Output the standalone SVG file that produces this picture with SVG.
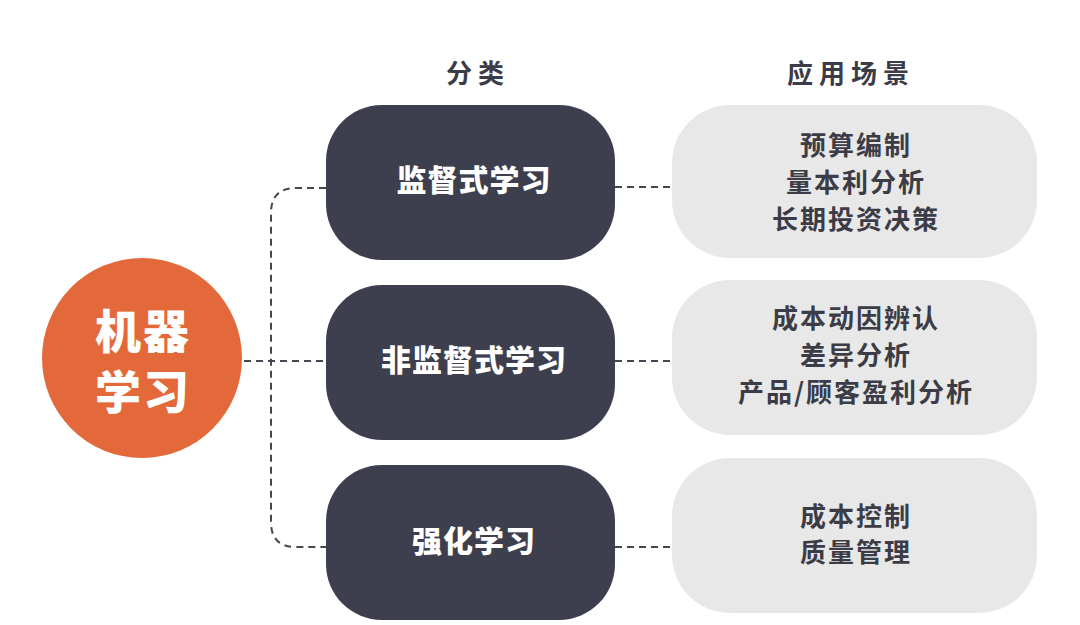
<svg xmlns="http://www.w3.org/2000/svg" width="1080" height="625" viewBox="0 0 1080 625">
<style>
text{font-family:"Noto Sans CJK SC","Noto Sans",sans-serif;text-anchor:middle}
.hdr{font-size:26px;font-weight:700;fill:#3b3c48;letter-spacing:6px}
.cat{fill:#3d3f4f}
.catt{font-size:30px;font-weight:900;fill:#ffffff;letter-spacing:1px}
.app{fill:#e8e8e8}
.appt{font-size:26px;font-weight:700;fill:#3b3c46;letter-spacing:2px}
.conn{fill:none;stroke:#444650;stroke-width:2;stroke-dasharray:7 5}
</style>
<rect width="1080" height="625" fill="#ffffff"/>
<text class="hdr" x="478" y="83">分类</text>
<text class="hdr" x="851" y="83">应用场景</text>
<g id="connectors">
<path class="conn" d="M326 188 H296 Q271 188 271 213 V522 Q271 547 296 547 H326"/>
<path class="conn" d="M244 361 H326"/>
<path class="conn" d="M615 187 H672"/>
<path class="conn" d="M615 361 H672"/>
<path class="conn" d="M615 547 H672"/>
</g>
<g id="ml">
<circle cx="142" cy="358" r="100" fill="#e4693a"/>
<text x="143" y="348" style="font-size:46px;font-weight:900;fill:#fff;letter-spacing:2px">机器</text>
<text x="143" y="409" style="font-size:46px;font-weight:900;fill:#fff;letter-spacing:2px">学习</text>
</g>
<g id="supervised">
<rect class="cat" x="326" y="105" width="289" height="155" rx="56"/>
<text class="catt" x="474" y="191">监督式学习</text>
</g>
<g id="unsupervised">
<rect class="cat" x="326" y="285" width="289" height="155" rx="56"/>
<text class="catt" x="474" y="371">非监督式学习</text>
</g>
<g id="reinforcement">
<rect class="cat" x="326" y="465" width="289" height="155" rx="56"/>
<text class="catt" x="474" y="552">强化学习</text>
</g>
<g id="app1">
<rect class="app" x="672" y="105" width="365" height="153" rx="58"/>
<text class="appt" x="856" y="155">预算编制</text>
<text class="appt" x="856" y="192">量本利分析</text>
<text class="appt" x="856" y="229">长期投资决策</text>
</g>
<g id="app2">
<rect class="app" x="672" y="280" width="365" height="155" rx="58"/>
<text class="appt" x="856" y="328">成本动因辨认</text>
<text class="appt" x="856" y="365">差异分析</text>
<text class="appt" x="856" y="402">产品/顾客盈利分析</text>
</g>
<g id="app3">
<rect class="app" x="672" y="458" width="365" height="155" rx="58"/>
<text class="appt" x="856" y="526">成本控制</text>
<text class="appt" x="856" y="562">质量管理</text>
</g>
</svg>
